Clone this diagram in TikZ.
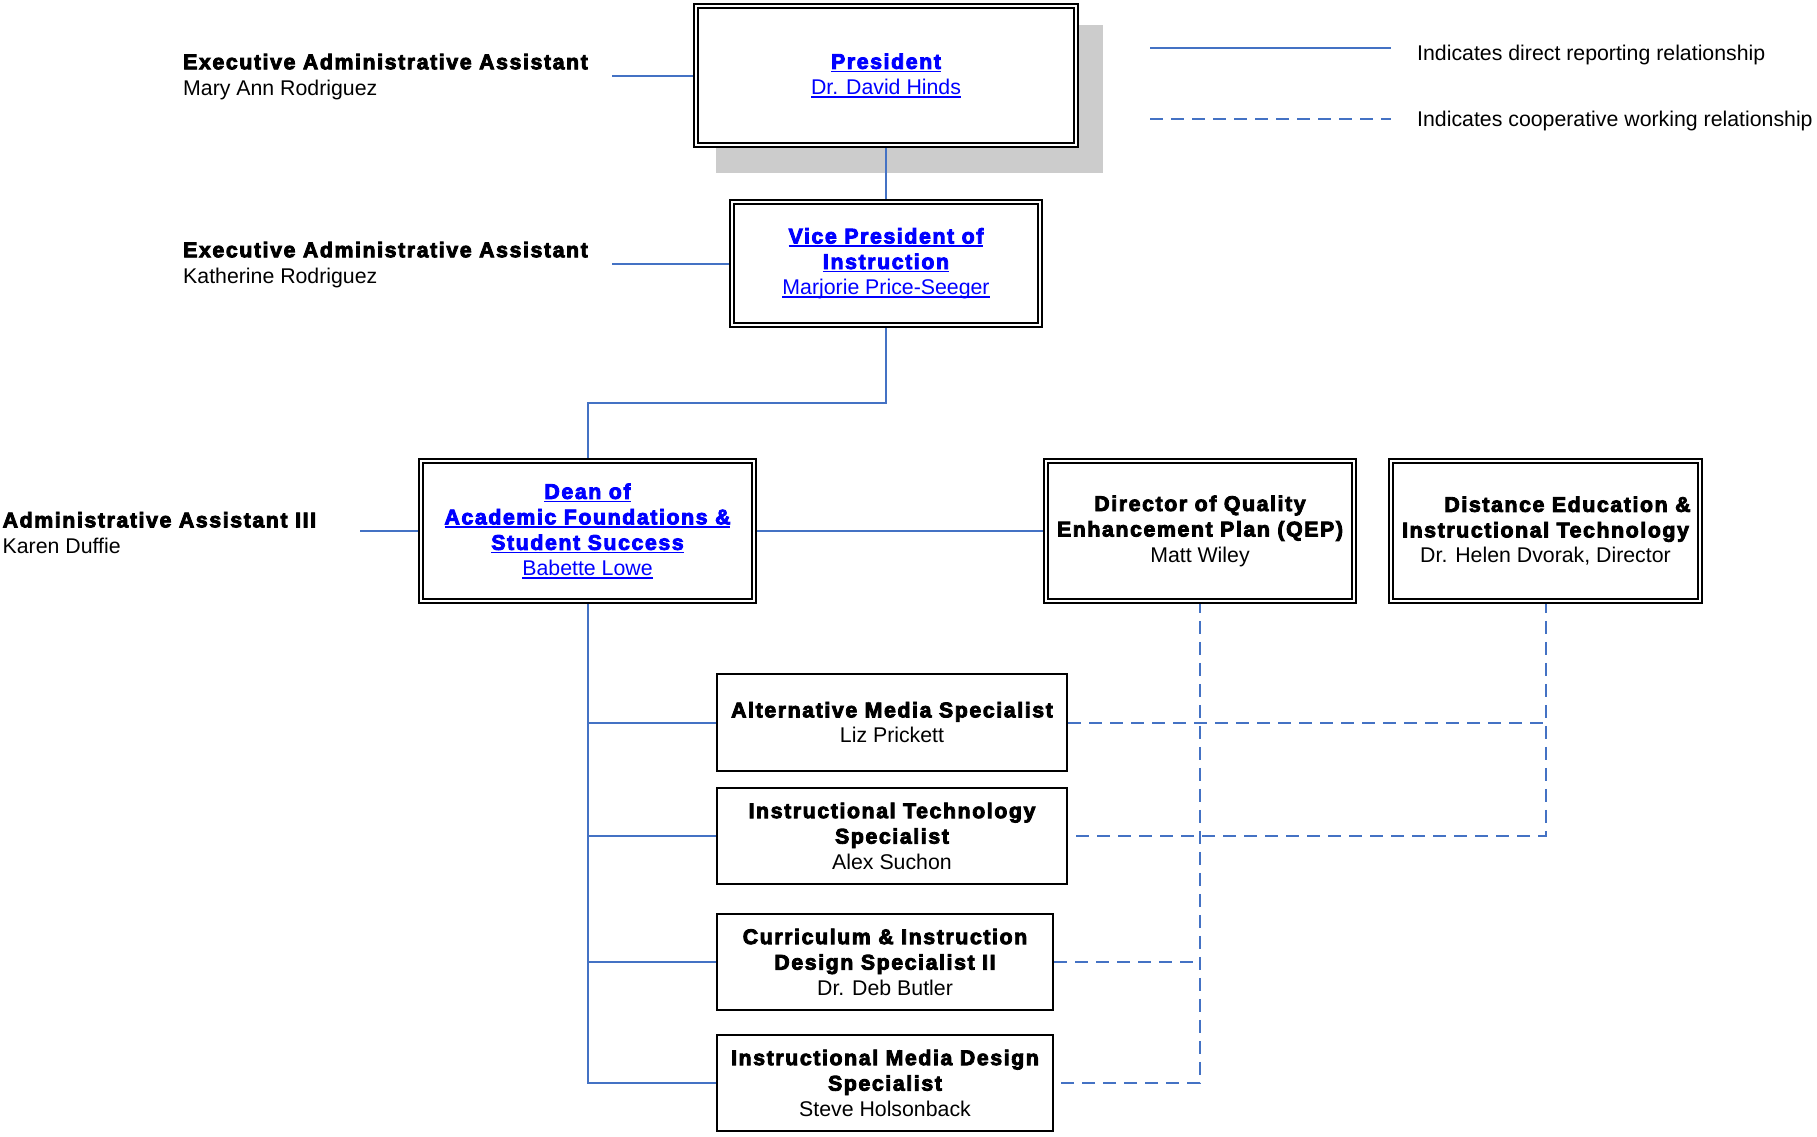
\documentclass[tikz,border=0pt]{standalone}
\usepackage{fontspec}
\setmainfont{Liberation Sans}
\newfontfamily\hv{Liberation Sans}[LetterSpace=7.5,BoldFeatures={FakeBold=4}]
\usetikzlibrary{backgrounds}
\definecolor{linkblue}{RGB}{0,0,255}
\definecolor{edgeblue}{RGB}{68,114,196}
\definecolor{shadowgray}{RGB}{204,204,204}
\newcommand{\ttl}[1]{{\hv\bfseries #1}}
% hyperlink-style underline drawn just below the baseline
\newsavebox\lkbox
\newcommand{\lk}[1]{\sbox\lkbox{#1}\leavevmode\rlap{\rule[-3.2pt]{\wd\lkbox}{1.4pt}}\usebox\lkbox}

\tikzset{
  txt/.style={font=\fontsize{21.3}{25.5}\selectfont, inner sep=0pt},
  lbl/.style={font=\fontsize{21.3}{26.5}\selectfont, inner sep=0pt, anchor=west, align=left},
  unit/.style={txt, draw, line width=1.6pt, fill=white, align=center},
  post/.style={txt, draw, line width=2pt, fill=white, align=center},
  frame/.style={draw, line width=2.1pt, fill=white},
  rep/.style={draw=edgeblue, line width=2pt},
  coop/.style={draw=edgeblue, line width=2pt, dash pattern=on 13pt off 8pt},
}

\begin{document}
\begin{tikzpicture}[x=1pt,y=-1pt]
\useasboundingbox (0,0) rectangle (1817,1136);

% leadership boxes (inner frame; outer frame added below)
\node[unit, text=linkblue, minimum width=376, minimum height=135] (pres) at (886,75.5)
  {\ttl{\lk{President}}\\\lk{Dr. David Hinds}};
\node[unit, text=linkblue, minimum width=304, minimum height=119] (vp) at (886,263.5)
  {\ttl{\lk{Vice President of}}\\\ttl{\lk{Instruction}}\\\lk{Marjorie Price-Seeger}};
\node[unit, text=linkblue, minimum width=329, minimum height=136] (dean) at (587.5,531)
  {\ttl{\lk{Dean of}}\\\ttl{\lk{Academic Foundations \&}}\\\ttl{\lk{Student Success}}\\\lk{Babette Lowe}};
\node[unit, minimum width=304, minimum height=136] (qep) at (1200,531)
  {\ttl{Director of Quality}\\\ttl{Enhancement Plan (QEP)}\\Matt Wiley};
\node[unit, minimum width=305, minimum height=136] (de) at (1545.5,531)
  {\hspace*{44pt}\ttl{Distance Education \&}\\\ttl{Instructional Technology}\\Dr. Helen Dvorak, Director};

% specialist boxes
\node[post, minimum width=350, minimum height=97] (alt) at (892,722.5)
  {\ttl{Alternative Media Specialist}\\Liz Prickett};
\node[post, minimum width=350, minimum height=96] (itec) at (892,836)
  {\ttl{Instructional Technology}\\\ttl{Specialist}\\Alex Suchon};
\node[post, minimum width=336, minimum height=96] (cur) at (885,962)
  {\ttl{Curriculum \& Instruction}\\\ttl{Design Specialist II}\\Dr. Deb Butler};
\node[post, minimum width=336, minimum height=96] (imd) at (885,1083)
  {\ttl{Instructional Media Design}\\\ttl{Specialist}\\Steve Holsonback};

% assistants
\node[lbl] (ea1) at (183,77) {\ttl{Executive Administrative Assistant}\\Mary Ann Rodriguez};
\node[lbl] (ea2) at (183,265) {\ttl{Executive Administrative Assistant}\\Katherine Rodriguez};
\node[lbl] (aa3) at (2.5,533) {\ttl{Administrative Assistant III}\\Karen Duffie};
\coordinate (ea1r) at (612,75.5);
\coordinate (ea2r) at (612,263.5);
\coordinate (aa3r) at (360,531);

% legend
\coordinate (ls1) at (1150,47.5);
\coordinate (ls2) at (1391,47.5);
\coordinate (ld1) at (1150,119);
\coordinate (ld2) at (1391,119);
\node[txt, anchor=base west] (leg1) at (1417,60) {Indicates direct reporting relationship};
\node[txt, anchor=base west] (leg2) at (1417,126) {Indicates cooperative working relationship};
\draw[rep] (ls1) -- (ls2);
\draw[coop] (ld1) -- (ld2);

\coordinate (vpj) at (886,403);

\begin{pgfonlayer}{background}
  \fill[white] (0,0) rectangle (1817,1136);
  % drop shadow behind the president's box
  \fill[shadowgray] (716,25) rectangle (1103,173);
  % reporting lines
  \draw[rep] (pres.south) -- (vp.north);
  \draw[rep] (vp.south) -- (vpj) -| (dean.north);
  \draw[rep] (ea1r) -- (pres.west);
  \draw[rep] (ea2r) -- (vp.west);
  \draw[rep] (aa3r) -- (dean.west);
  \draw[rep] (dean.east) -- (qep.west);
  \draw[rep] (dean.south) |- (alt.west);
  \draw[rep] (dean.south) |- (itec.west);
  \draw[rep] (dean.south) |- (cur.west);
  \draw[rep] (dean.south) |- (imd.west);
  % cooperative lines
  \draw[coop] (qep.south) |- (imd.east);
  \draw[coop] (cur.east) -- (cur.east -| qep.south);
  \draw[coop] (de.south) |- (itec.east);
  \draw[coop] (alt.east) -- (alt.east -| de.south);
  % outer frames of the double-ruled boxes
  \foreach \n in {pres,vp,dean,qep,de}
    \draw[frame] ([xshift=-3.3pt,yshift=3.3pt]\n.north west) rectangle ([xshift=3.3pt,yshift=-3.3pt]\n.south east);
\end{pgfonlayer}
\end{tikzpicture}
\end{document}
